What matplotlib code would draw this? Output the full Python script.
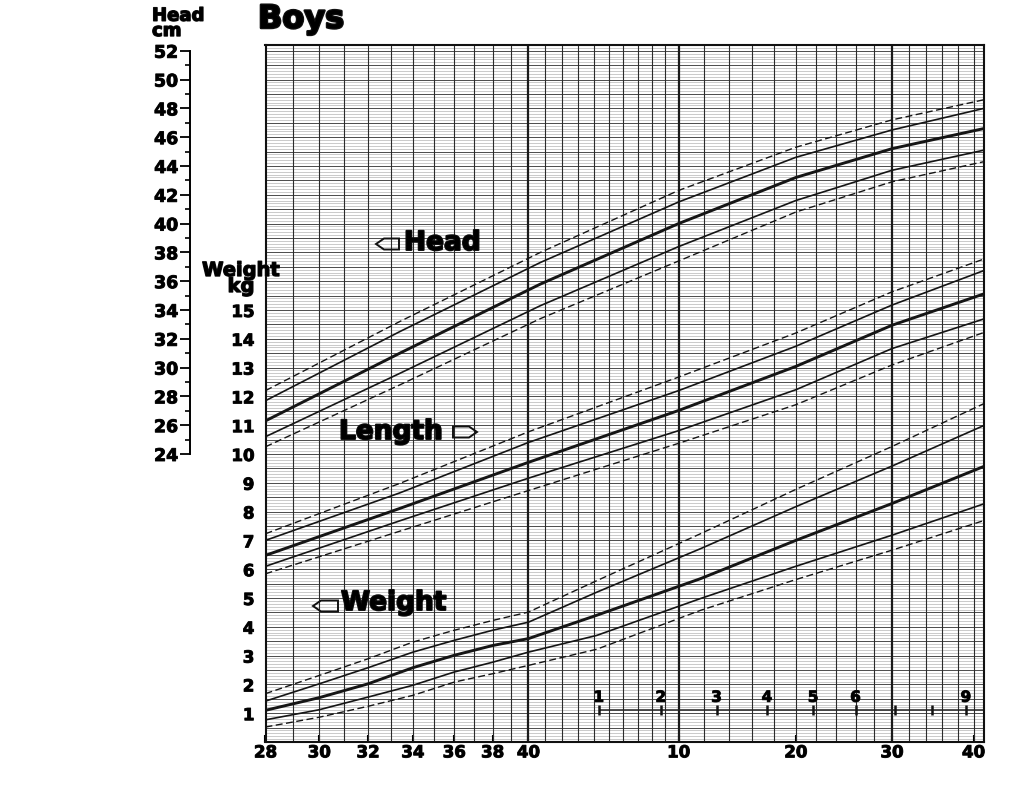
import numpy as np
import matplotlib
matplotlib.use("Agg")
import matplotlib.pyplot as plt
import matplotlib.patheffects as pe
from matplotlib.patches import Polygon
from matplotlib.ticker import FixedLocator

plt.rcParams['font.family'] = ['DejaVu Sans']

# ages are weeks after conception (40 = term); post-term axis labels are weeks after term
head_age = [28, 33.4, 40.7, 50, 60, 70, 81.4]
head_top_dash = [28.4, 33.2, 38.0, 42.3, 45.3, 47.2, 48.6]
head_top = [27.7, 32.5, 37.3, 41.5, 44.6, 46.5, 48.0]
head_mid = [26.3, 31.0, 35.8, 40.0, 43.2, 45.2, 46.6]
head_low = [25.2, 29.6, 34.3, 38.4, 41.6, 43.7, 45.1]
head_low_dash = [24.5, 28.8, 33.4, 37.4, 40.8, 42.9, 44.3]

# length curves have no scale on this page; values in grid (kg) units
len_age = [28, 33.4, 40, 50, 60, 70, 81.4]
len_top_dash = [7.23, 8.98, 10.77, 12.67, 14.20, 15.63, 16.77]
len_top = [7.00, 8.65, 10.40, 12.20, 13.74, 15.17, 16.37]
len_mid = [6.48, 8.11, 9.71, 11.51, 13.04, 14.47, 15.56]
len_low = [6.10, 7.68, 9.16, 10.81, 12.23, 13.66, 14.69]
len_low_dash = [5.84, 7.32, 8.73, 10.37, 11.71, 13.09, 14.22]

wt_age = [28, 30, 32, 34, 36, 38, 40, 44.2, 51.7, 60, 70, 81.4]
wt_top_dash = [1.68, 2.31, 2.89, 3.47, 3.88, 4.22, 4.51, 5.60, 7.23, 8.77, 10.26, 11.75]
wt_top = [1.42, 2.02, 2.58, 3.12, 3.53, 3.88, 4.16, 5.20, 6.71, 8.17, 9.58, 10.99]
wt_mid = [1.10, 1.54, 2.02, 2.58, 3.01, 3.35, 3.59, 4.40, 5.67, 7.00, 8.28, 9.57]
wt_low = [0.77, 1.12, 1.56, 1.97, 2.43, 2.77, 3.12, 3.70, 4.98, 6.10, 7.18, 8.27]
wt_low_dash = [0.52, 0.86, 1.24, 1.62, 2.08, 2.37, 2.66, 3.22, 4.57, 5.64, 6.66, 7.69]

x_ticks = [28, 30, 32, 34, 36, 38, 40, 50, 60, 70, 80]
x_labels = ["28", "30", "32", "34", "36", "38", "40", "10", "20", "30", "40"]
months = [1, 2, 3, 4, 5, 6, 7, 8, 9]
month_labels = ["1", "2", "3", "4", "5", "6", "", "", "9"]
weight_ticks = list(range(1, 16))
head_ticks = list(range(24, 53, 2))

X_MIN, X_MAX = 28, 81.4
Y_MAX = 24.2


def fwd(t):
    return np.log(np.clip(np.asarray(t, dtype=float) - 9.0, 1e-3, None))


def inv(u):
    return np.exp(u) + 9.0


def head_to_grid(h):
    return (np.asarray(h, dtype=float) - 4.0) / 2.0


def heavy(w):
    # thicken the bold face so it looks like the poster lettering
    return [pe.withStroke(linewidth=w, foreground="#111111")]


fig = plt.figure(figsize=(10.24, 7.86), dpi=100)
fig.patch.set_facecolor("white")
ax = fig.add_axes([265.5 / 1024, 1 - 742 / 786, (984 - 265.5) / 1024, (742 - 45) / 786])
ax.set_xscale("function", functions=(fwd, inv))
ax.set_xlim(X_MIN, X_MAX)
ax.set_ylim(0, Y_MAX)

# graph paper
ax.hlines(np.arange(1, 242) / 10, X_MIN, X_MAX, color="#a3a3a3", lw=0.4, zorder=1)
ax.hlines(np.arange(1, 49) * 0.5, X_MIN, X_MAX, color="#4d4d4d", lw=0.7, zorder=1)
thin_weeks = [w for w in list(range(29, 50)) + list(range(52, 81, 2)) if w not in (40, 70)]
ax.vlines(thin_weeks, 0, Y_MAX, color="#2b2b2b", lw=0.8, zorder=2)
ax.vlines([40, 50, 70], 0, Y_MAX, color="#1a1a1a", lw=1.6, zorder=2)

styles = [dict(ls=(0, (5, 2.5)), lw=1.0), dict(ls="-", lw=1.2), dict(ls="-", lw=2.1),
          dict(ls="-", lw=1.2), dict(ls=(0, (5, 2.5)), lw=1.0)]

for ys, st in zip([head_top_dash, head_top, head_mid, head_low, head_low_dash], styles):
    ax.plot(head_age, head_to_grid(ys), color="#151515", zorder=4, **st)
for ys, st in zip([len_top_dash, len_top, len_mid, len_low, len_low_dash], styles):
    ax.plot(len_age, ys, color="#151515", zorder=4, **st)
for ys, st in zip([wt_top_dash, wt_top, wt_mid, wt_low, wt_low_dash], styles):
    ax.plot(wt_age, ys, color="#151515", zorder=4, **st)

# months after term
month_age = [40 + m * 52 / 12 for m in months]
ax.hlines(1.1, month_age[0], X_MAX, color="#222222", lw=1.1, zorder=4)
ax.plot(month_age, [1.1] * len(months), ls="none", marker="|", ms=7, mew=1.8,
        color="#111111", zorder=5)
for a, lbl in zip(month_age, month_labels):
    ax.annotate(lbl, (a, 1.1), xytext=(0, 4), textcoords="offset points",
                ha="center", va="bottom", fontsize=11, fontweight="bold", zorder=6,
                path_effects=heavy(0.7))

# axes
for s in ax.spines.values():
    s.set_linewidth(1.5)
    s.set_color("#111111")
    s.set_zorder(6)
ax.set_xticks(x_ticks)
xl = ax.set_xticklabels(x_labels, fontweight="bold")
ax.xaxis.set_minor_locator(FixedLocator([]))
ax.tick_params(axis="x", direction="in", length=5, width=1.5, pad=1, labelsize=12)
ax.set_yticks(weight_ticks)
yl = ax.set_yticklabels([str(v) for v in weight_ticks], fontweight="bold")
ax.tick_params(axis="y", length=0, pad=8, labelsize=12)

sec = ax.secondary_yaxis((190 - 265.5) / (984 - 265.5), functions=(lambda w: 2 * w + 4, lambda h: (h - 4) / 2))
sec.set_yticks(head_ticks)
hl = sec.set_yticklabels([str(v) for v in head_ticks], fontweight="bold")
sec.yaxis.set_minor_locator(FixedLocator(list(range(25, 52, 2))))
sec.spines["left"].set_bounds(24, 52)
sec.spines["left"].set_linewidth(1.4)
sec.tick_params(which="major", length=7, width=1.3, pad=1.5, labelsize=12.5)
sec.tick_params(which="minor", length=3.5, width=1.2)
for t in list(xl) + list(yl) + list(hl):
    t.set_path_effects(heavy(0.7))

# titles and labels (multi-line texts are placed by the baseline of their last line)
fig.text(258 / 1024, 1 - 28 / 786, "Boys", fontsize=23, fontweight="bold", va="baseline", ha="left",
         path_effects=heavy(1.8))
fig.text(152 / 1024, 1 - 36 / 786, "Head\ncm", fontsize=13, fontweight="bold", va="baseline", ha="left",
         linespacing=0.8, path_effects=heavy(1.0))
fig.text(241 / 1024, 1 - 292 / 786, "Weight\nkg", fontsize=14, fontweight="bold", va="baseline",
         ha="center", multialignment="center", linespacing=0.8, zorder=8, path_effects=heavy(1.0))

fig.text(404 / 1024, 1 - 250 / 786, "Head", fontsize=19, fontweight="bold", va="baseline", ha="left",
         path_effects=heavy(1.4))
fig.text(339 / 1024, 1 - 439 / 786, "Length", fontsize=19, fontweight="bold", va="baseline", ha="left",
         path_effects=heavy(1.4))
fig.text(341 / 1024, 1 - 610 / 786, "Weight", fontsize=19, fontweight="bold", va="baseline", ha="left",
         path_effects=heavy(1.4))


def tag(x0, yc, w, h, point_left):
    tip = 8
    if point_left:
        pts = [(x0, yc), (x0 + tip, yc + h / 2), (x0 + w, yc + h / 2), (x0 + w, yc - h / 2), (x0 + tip, yc - h / 2)]
    else:
        pts = [(x0 + w, yc), (x0 + w - tip, yc + h / 2), (x0, yc + h / 2), (x0, yc - h / 2), (x0 + w - tip, yc - h / 2)]
    pts = [(px / 1024, 1 - py / 786) for px, py in pts]
    fig.patches.append(Polygon(pts, closed=True, fill=False, ec="#111111", lw=1.4,
                               transform=fig.transFigure, figure=fig))


tag(376, 244, 23, 11, True)
tag(453, 432, 24, 11, False)
tag(313, 606, 25, 11, True)

fig.savefig("out.png", dpi=100, facecolor="white")
